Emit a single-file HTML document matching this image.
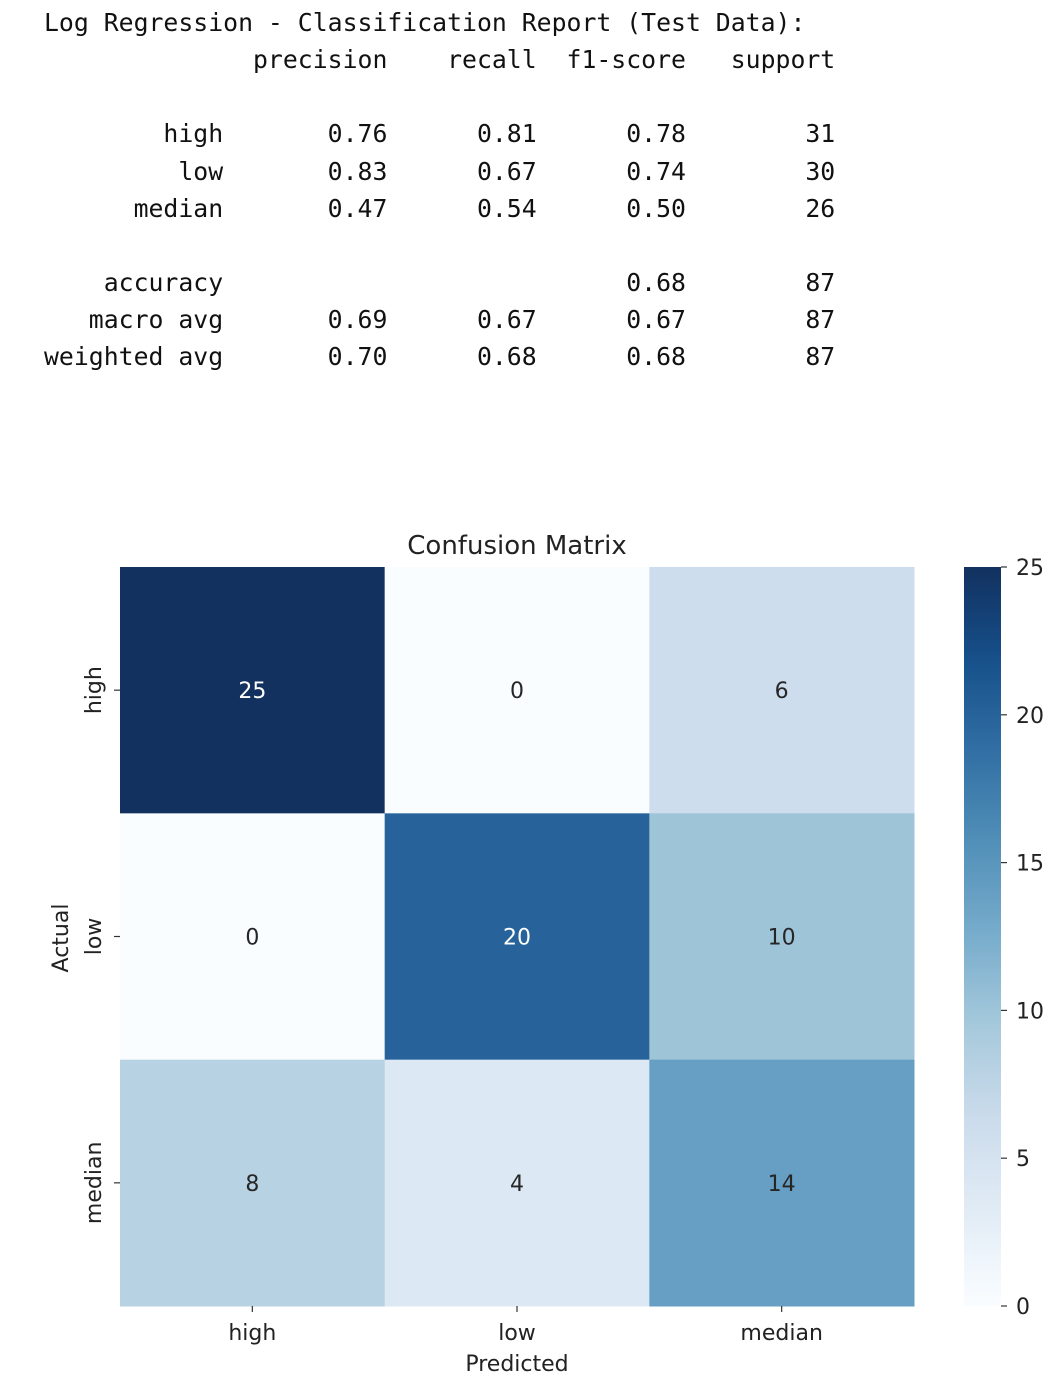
<!DOCTYPE html>
<html><head><meta charset="utf-8"><style>
body{margin:0;background:#fff;width:1058px;height:1386px;overflow:hidden;position:relative}
pre{position:absolute;left:44px;top:4px;margin:0;font-family:"DejaVu Sans Mono","Liberation Mono",monospace;font-size:24.8px;line-height:37.15px;color:#111}
svg{position:absolute;left:0;top:0}
text{font-family:"DejaVu Sans","Liberation Sans",sans-serif;fill:#222}
</style></head><body>
<pre>Log Regression - Classification Report (Test Data):
              precision    recall  f1-score   support

        high       0.76      0.81      0.78        31
         low       0.83      0.67      0.74        30
      median       0.47      0.54      0.50        26

    accuracy                           0.68        87
   macro avg       0.69      0.67      0.67        87
weighted avg       0.70      0.68      0.68        87</pre>
<svg id="chart" width="1058" height="1386">
<defs><linearGradient id="cb" x1="0" y1="1" x2="0" y2="0"></linearGradient></defs>
</svg>
<script>
const predictedLabels=["high","low","median"];
const actualLabels=["high","low","median"];
const matrixValues=[[25,0,6],[0,20,10],[8,4,14]];
const colorbarTicks=[0,5,10,15,20,25];
const vmin=0,vmax=25;
const stops=[[247,251,255],[222,235,247],[198,219,239],[158,202,225],[107,174,214],[66,146,198],[33,113,181],[8,81,156],[8,48,107]];
function desat(c){const l=0.3*c[0]+0.59*c[1]+0.11*c[2];return c.map(x=>Math.round(x+(l-x)*0.22+2));}
function cmap(v){let t=Math.max(0,Math.min(1,(v-vmin)/(vmax-vmin)))*8;let i=Math.min(7,Math.floor(t)),f=t-i;const a=stops[i],b=stops[i+1];return desat(a.map((x,k)=>x+(b[k]-x)*f)).map(x=>Math.min(255,x));}
const svg=document.getElementById('chart');const NS='http://www.w3.org/2000/svg';
function el(t,attrs,parent){const e=document.createElementNS(NS,t);for(const k in attrs)e.setAttribute(k,attrs[k]);(parent||svg).appendChild(e);return e;}
const grad=document.getElementById('cb');
for(let k=0;k<=16;k++){const v=vmin+(vmax-vmin)*k/16;el('stop',{offset:k/16,'stop-color':`rgb(${cmap(v)})`},grad);}
const X0=120,X1=914,Y0=567,Y1=1306;
const cw=(X1-X0)/predictedLabels.length,ch=(Y1-Y0)/actualLabels.length;
const xCenter=j=>X0+cw*(j+0.5),yCenter=i=>Y0+ch*(i+0.5);
matrixValues.forEach((row,i)=>row.forEach((v,j)=>{
 const c=cmap(v);
 const r=el('rect',{x:X0+cw*j,y:Y0+ch*i,width:cw+0.5,height:ch+0.5,fill:`rgb(${c})`});
 
 
 const lum=(0.2126*c[0]+0.7152*c[1]+0.0722*c[2])/255;
 const t=el('text',{x:xCenter(j),y:yCenter(i)+8,'text-anchor':'middle','font-size':22});
 t.style.fill=lum<0.45?'#fff':'#262626';t.textContent=v;
 
 
}));
predictedLabels.forEach((l,j)=>{
 el('line',{x1:xCenter(j),x2:xCenter(j),y1:Y1,y2:Y1+6,stroke:'#333','stroke-width':1.2});
 const t=el('text',{x:xCenter(j),y:Y1+34,'text-anchor':'middle','font-size':22});t.textContent=l;
 
 
});
actualLabels.forEach((l,i)=>{
 el('line',{x1:X0-6,x2:X0,y1:yCenter(i),y2:yCenter(i),stroke:'#333','stroke-width':1.2});
 const t=el('text',{x:0,y:0,'text-anchor':'middle','font-size':22,transform:`translate(101,${yCenter(i)}) rotate(-90)`});t.textContent=l;
 
 
});
let t=el('text',{x:517,y:554,'text-anchor':'middle','font-size':26});t.textContent='Confusion Matrix';

t=el('text',{x:517,y:1371,'text-anchor':'middle','font-size':22});t.textContent='Predicted';

t=el('text',{x:0,y:0,'text-anchor':'middle','font-size':22,transform:'translate(68,938) rotate(-90)'});t.textContent='Actual';

const CX0=964,CX1=1001;
const cb=el('rect',{x:CX0,y:Y0,width:CX1-CX0,height:Y1-Y0,fill:'url(#cb)'});

colorbarTicks.forEach(v=>{
 const y=Y1-(v-vmin)/(vmax-vmin)*(Y1-Y0);
 el('line',{x1:CX1,x2:CX1+6,y1:y,y2:y,stroke:'#333','stroke-width':1.2});
 const tt=el('text',{x:CX1+15,y:y+8,'font-size':22});tt.textContent=v;
 
 
});
</script>
</body></html>
